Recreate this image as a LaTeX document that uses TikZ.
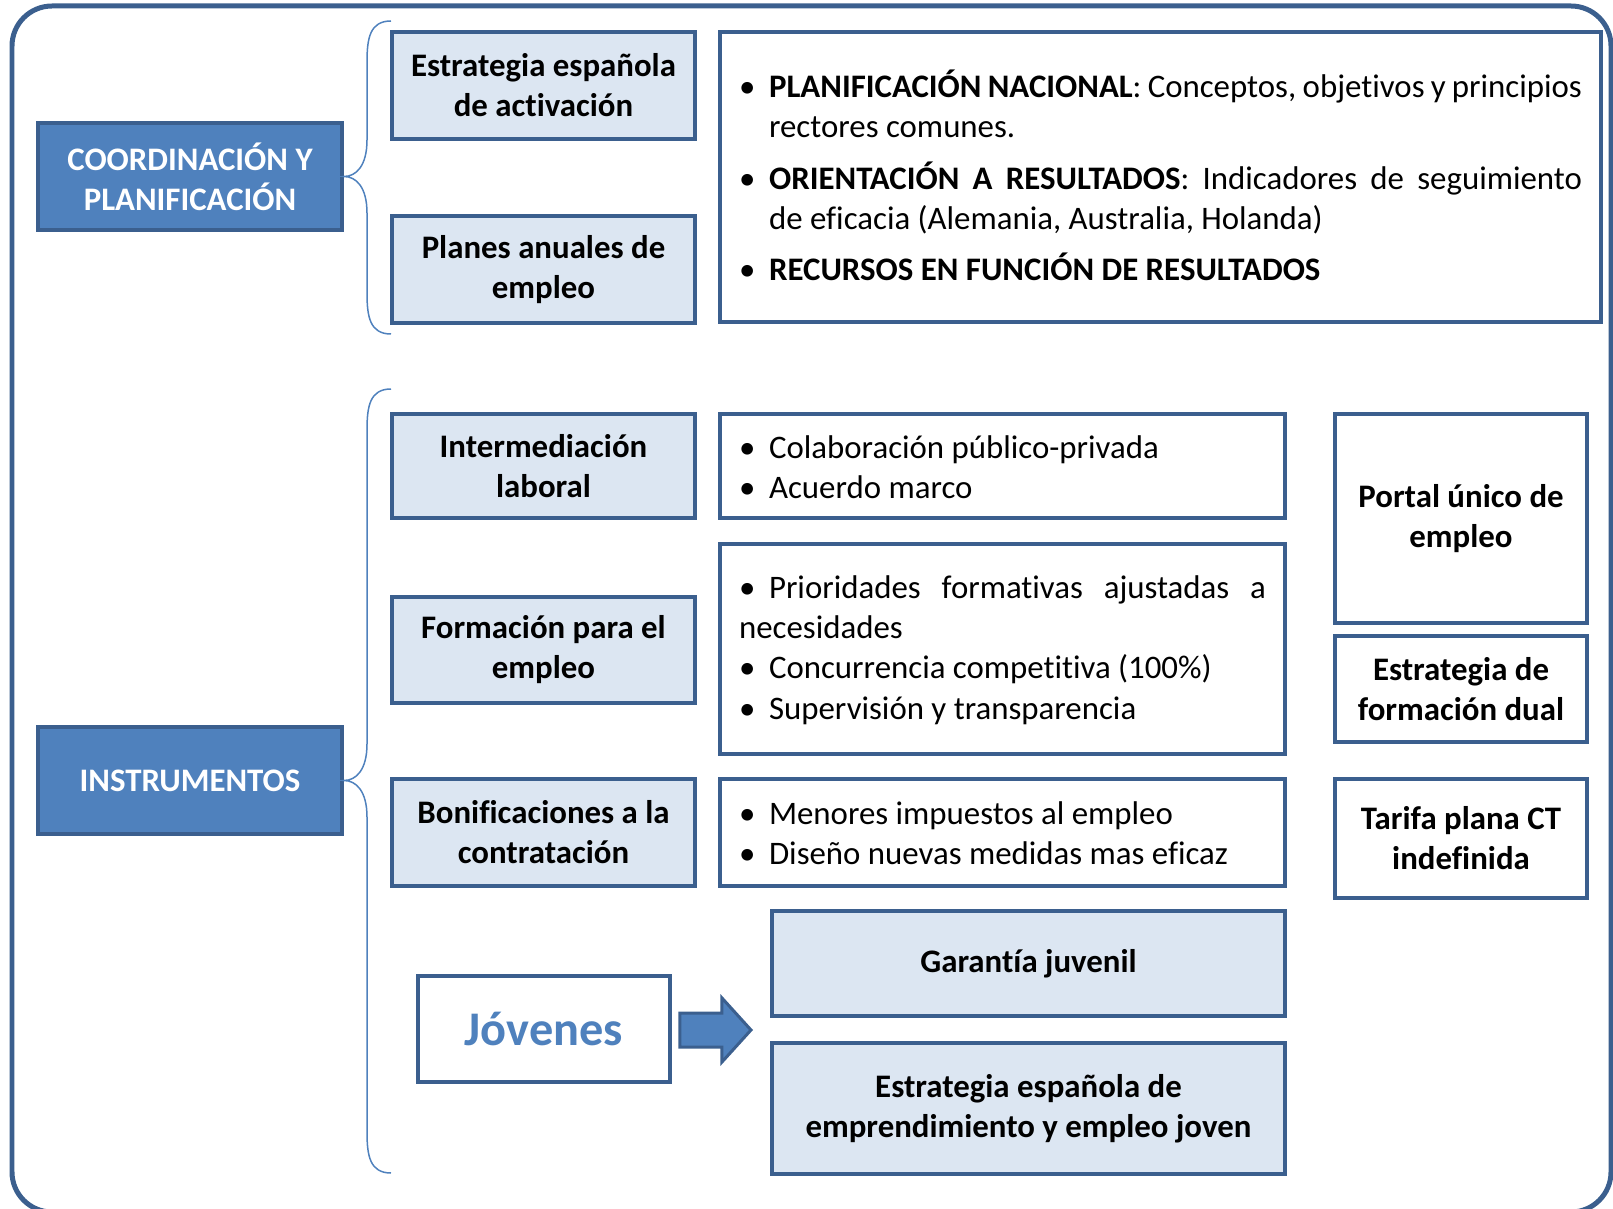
\documentclass[tikz,border=0pt]{standalone}
\usepackage{fontspec}
\setmainfont{Carlito}[Ligatures={NoCommon}]
\usepackage{xcolor}
\usetikzlibrary{positioning, calc}
\definecolor{borde}{HTML}{3B5F8E}
\definecolor{azul}{HTML}{4F81BD}
\definecolor{celeste}{HTML}{DCE6F2}
\newcommand{\vin}{\par\hangindent=0.6cm\hangafter=1\noindent\makebox[0.6cm][l]{\textbullet}}
\newcommand{\vinsola}{\par\noindent\makebox[0.6cm][l]{\textbullet}}
\newcommand{\finlista}{\par\kern8.5pt}

\begin{document}
\begin{tikzpicture}[x=0.02cm, y=-0.02cm,
                    every node/.style={inner sep=0pt, font=\fontsize{18.7}{22.8}\selectfont},
                    caja/.style={draw=borde, line width=0.08cm, fill=celeste, align=center,
                                 font=\bfseries\fontsize{18.7}{22.8}\selectfont},
                    cajaosc/.style={caja, fill=azul, text=white},
                    cajablanca/.style={caja, fill=white},
                    lista/.style={draw=borde, line width=0.08cm, fill=white, align=justify,
                                  inner xsep=0.38cm},
                    llave/.style={azul, line width=0.03cm}]
  \useasboundingbox (0,0) rectangle (1613,1209);
  \draw[borde, line width=0.1cm, rounded corners=0.8cm] (12,6) rectangle (1611,1212);

  \node[cajaosc, minimum width=6.08cm, minimum height=2.14cm] (coord) at (190,176.5)
       {COORDINACIÓN Y\\PLANIFICACIÓN};
  \node[caja, minimum width=6.06cm, minimum height=2.14cm] (estrat) at (543.5,85.5)
       {Estrategia española\\de activación};
  \node[caja, minimum width=6.06cm, minimum height=2.14cm] (planes) at (543.5,269.5)
       {Planes anuales de\\empleo};
  \node[lista, text width=16.86cm, minimum height=5.8cm] (nacional) at (1160.5,177)
       {\vin\setlength{\parskip}{6.5pt}\textbf{PLANIFICACIÓN NACIONAL}: Conceptos, objetivos y principios rectores comunes.
        \vin\textbf{ORIENTACIÓN A RESULTADOS}: Indicadores de seguimiento\linebreak de eficacia (Alemania, Australia, Holanda)
        \vin\textbf{RECURSOS EN FUNCIÓN DE RESULTADOS}\finlista};

  \node[cajaosc, minimum width=6.08cm, minimum height=2.14cm] (instr) at (190,780.5)
       {INSTRUMENTOS};
  \node[caja, minimum width=6.06cm, minimum height=2.08cm] (intermed) at (543.5,466)
       {Intermediación\\laboral};
  \node[caja, minimum width=6.06cm, minimum height=2.12cm] (formac) at (543.5,650)
       {Formación para el\\empleo};
  \node[caja, minimum width=6.06cm, minimum height=2.14cm] (bonif) at (543.5,832.5)
       {Bonificaciones a la\\contratación};
  \node[lista, text width=10.54cm, minimum height=2.08cm] (colab) at (1002.5,466)
       {\vin Colaboración público-privada
        \vin Acuerdo marco\finlista};
  \node[lista, text width=10.54cm, minimum height=4.2cm] (priori) at (1002.5,649)
       {\vinsola Prioridades formativas ajustadas a necesidades
        \vin Concurrencia competitiva (100\%)
        \vin Supervisión y transparencia\finlista};
  \node[lista, text width=10.54cm, minimum height=2.14cm] (menores) at (1002.5,832.5)
       {\vin Menores impuestos al empleo
        \vin Diseño nuevas medidas mas eficaz\finlista};

  \node[cajablanca, minimum width=5.04cm, minimum height=4.18cm] (portal) at (1461,518.5)
       {Portal único de\\empleo};
  \node[cajablanca, minimum width=5.04cm, minimum height=2.12cm] (dual) at (1461,689)
       {Estrategia de\\formación dual};
  \node[cajablanca, minimum width=5.04cm, minimum height=2.38cm] (tarifa) at (1461,838.5)
       {Tarifa plana CT\\indefinida};

  \node[cajablanca, minimum width=5.04cm, minimum height=2.12cm, text=azul,
        font=\bfseries\fontsize{27.5}{32}\selectfont] (jovenes) at (544,1029) {Jóvenes};
  \node[caja, minimum width=10.26cm, minimum height=2.1cm] (garantia) at (1028.5,963.5)
       {Garantía juvenil};
  \node[caja, minimum width=10.26cm, minimum height=2.62cm] (empren) at (1028.5,1108.5)
       {Estrategia española de\\emprendimiento y empleo joven};

  % llaves
  \coordinate (l1a) at (391,21);
  \coordinate (l1b) at (391,334);
  \coordinate (l2a) at (391,389);
  \coordinate (l2b) at (391,1173);
  \draw[llave] (l1a) .. controls (370,21) and (367,38) .. (367,62) -- (367,140)
        .. controls (367,166) and (356,176.5) .. (coord.east)
        .. controls (356,176.5) and (367,187) .. (367,213) -- (367,293)
        .. controls (367,317) and (370,334) .. (l1b);
  \draw[llave] (l2a) .. controls (370,389) and (367,406) .. (367,430) -- (367,744)
        .. controls (367,770) and (356,780.5) .. (instr.east)
        .. controls (356,780.5) and (367,791) .. (367,817) -- (367,1132)
        .. controls (367,1156) and (370,1173) .. (l2b);

  % flecha
  \draw[borde, fill=azul, line width=0.06cm, line join=miter]
        ($(jovenes.east)+(8,-16)$) -- ++(42,0) -- ++(0,-15) -- ++(29,32)
        -- ++(-29,32) -- ++(0,-15) -- ++(-42,0) -- cycle;
\end{tikzpicture}
\end{document}
